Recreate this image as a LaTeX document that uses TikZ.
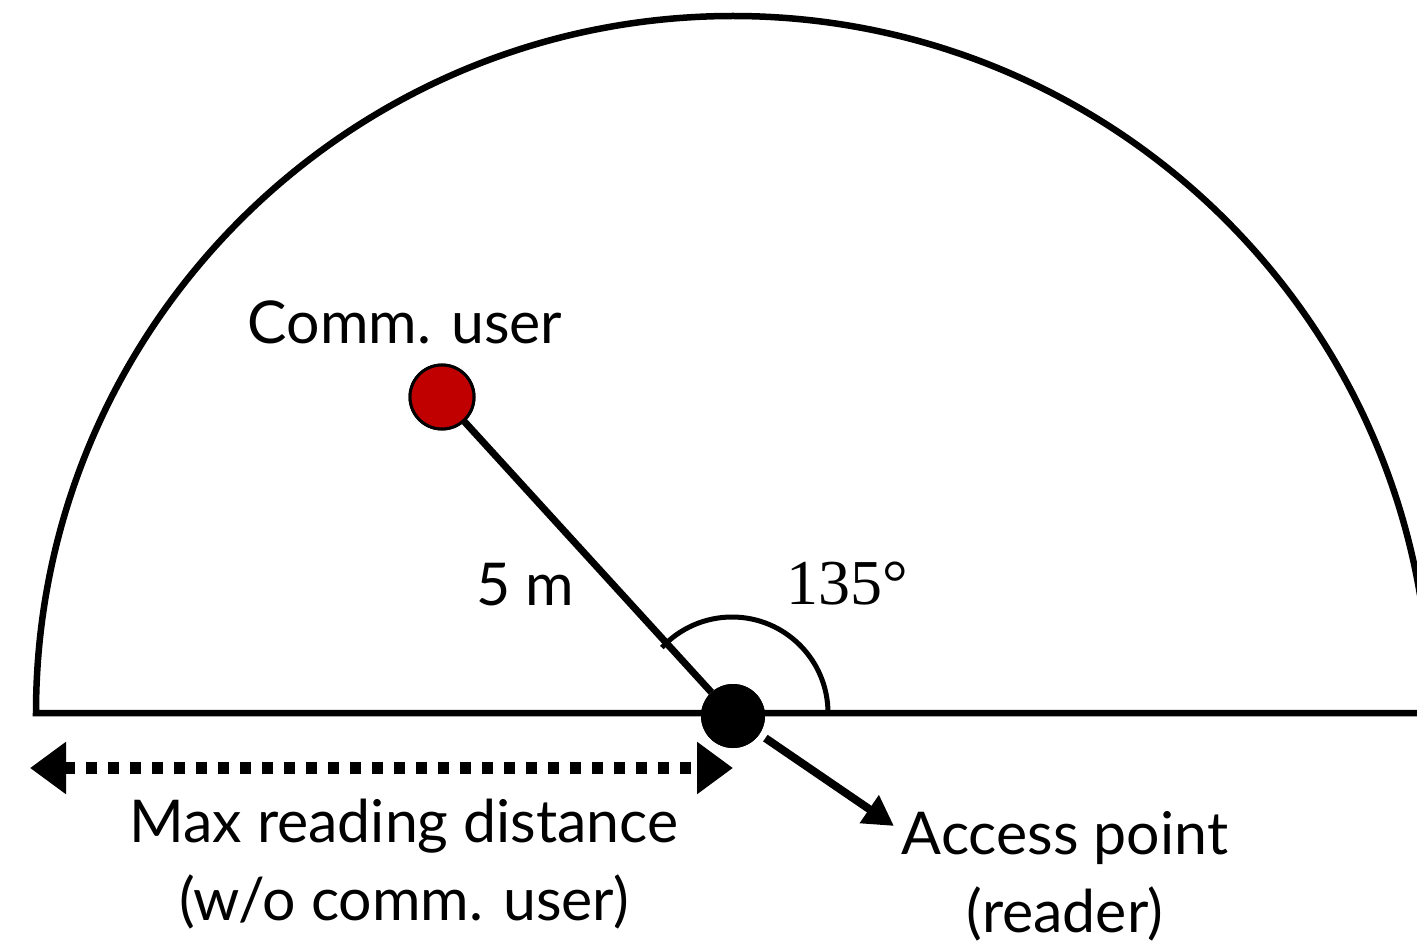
\documentclass[tikz,border=0pt]{standalone}
\usepackage{fontspec}
\setmainfont{Lato}
\newfontfamily\numfont{Liberation Serif}
\usetikzlibrary{arrows.meta}
\begin{document}
\begin{tikzpicture}[x=1pt,y=-1pt,
  lbl/.style={font=\fontsize{59}{78}\selectfont, align=center, inner sep=0pt},
  thick7/.style={line width=6.5pt},
  apdot/.style={circle, fill=black, minimum size=64pt, inner sep=0pt},
  cudot/.style={circle, fill={rgb,255:red,192;green,0;blue,0}, draw=black, line width=3pt, minimum size=64pt, inner sep=0pt},
]
\useasboundingbox (0,0) rectangle (1417,944);
\clip (0,0) rectangle (1417,944);
% half circle and base line
\coordinate (L) at (36,713);
\draw[thick7] (L) arc[start angle=180,end angle=360,radius=697] -- cycle;
% nodes
\node[apdot] (ap) at (733,716) {};
\node[cudot] (cu) at (442,397) {};
% angle arc
\draw[line width=5pt] (828,713) arc[start angle=0,end angle=-137,radius=96];
% line
\draw[line width=7pt] (cu) -- (ap);
\node[apdot] at (ap) {};
\node[cudot] at (cu) {};
% dashed arrow
\coordinate (dl) at (30,768);
\coordinate (dr) at (733,768);
\draw[line width=12pt, dash pattern=on 11pt off 11pt, {Triangle[length=36pt,width=50pt]}-{Triangle[length=36pt,width=50pt]}] (dl) -- (dr);
% access arrow
\coordinate (apt) at (894,826);
\draw[line width=8pt, -{Triangle[length=30pt,width=32pt]}, shorten <=7pt] (ap) -- (apt);
% labels
\node[lbl] (t1) at (405,322) {Comm. user};
\node[lbl] (t2) at (525,585) {5 m};
\node[inner sep=0pt, font=\numfont\fontsize{64}{70}\selectfont] (t3) at (847,584) {135°};
\node[lbl] (t4) at (404,864) {Max reading distance\\(w/o comm. user)};
\node[lbl] (t5) at (1065,876) {Access point\\(reader)};
\end{tikzpicture}
\end{document}
